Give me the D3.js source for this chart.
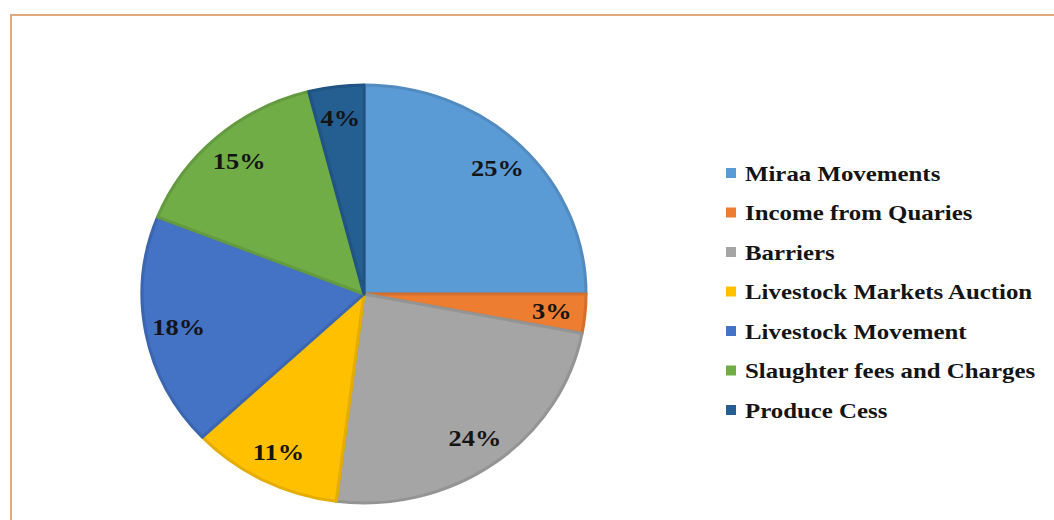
<!DOCTYPE html>
<html>
<head>
<meta charset="utf-8">
<script src="https://cdn.jsdelivr.net/npm/d3@7"></script>
<style>
  html, body { margin: 0; padding: 0; background: #fff; }
  #chart { width: 1054px; height: 520px; }
</style>
</head>
<body>
<div id="chart"></div>
<script>
const categories = ["Miraa Movements", "Income from Quaries", "Barriers", "Livestock Markets Auction",
  "Livestock Movement", "Slaughter fees and Charges", "Produce Cess"];
const shares = [25, 3, 24, 11, 18, 15, 4];
const colors = ["#5B9BD5", "#ED7D31", "#A5A5A5", "#FFC000", "#4472C4", "#70AD47", "#255E91"];

const width = 1054, height = 520;
const cx = 364, cy = 294, r = 209, stretch = 1.062;
const serif = "'Liberation Serif', 'Times New Roman', serif";

const svg = d3.select("#chart").append("svg")
  .attr("width", width).attr("height", height)
  .style("display", "block");

// frame
svg.append("rect")
  .attr("x", 11).attr("y", 15)
  .attr("width", width + 20).attr("height", height + 20)
  .attr("fill", "none")
  .attr("stroke", "#E0AA80")
  .attr("stroke-width", 2);

const pie = d3.pie().sort(null).value(d => d);
const arc = d3.arc().innerRadius(0).outerRadius(r);
const labelArc = d3.arc().innerRadius(r * 0.85).outerRadius(r * 0.85);

const g = svg.append("g")
  .attr("transform", `translate(${cx},${cy}) scale(${stretch},1)`);

const arcs = pie(shares);

g.selectAll("path")
  .data(arcs)
  .join("path")
  .attr("d", arc)
  .attr("fill", (d, i) => colors[i])
  .attr("stroke", (d, i) => d3.color(colors[i]).darker(0.3))
  .attr("stroke-width", 3)
  .attr("stroke-linejoin", "round");

g.selectAll("text")
  .data(arcs)
  .join("text")
  .attr("transform", d => `translate(${labelArc.centroid(d)}) scale(1.08,1)`)
  .attr("text-anchor", "middle")
  .attr("dy", "0.35em")
  .attr("font-family", serif)
  .attr("font-weight", "bold")
  .attr("font-size", 23)
  .attr("fill", "#141414")
  .text(d => d.data + "%");

// legend
const legend = svg.append("g").attr("transform", "translate(726,173)");
const rows = legend.selectAll("g")
  .data(categories)
  .join("g")
  .attr("transform", (d, i) => `translate(0,${i * 39.5})`);

rows.append("rect")
  .attr("x", 0).attr("y", -5)
  .attr("width", 10).attr("height", 10)
  .attr("fill", (d, i) => colors[i]);

rows.append("text")
  .attr("transform", "translate(19,0) scale(1.13,1)")
  .attr("dy", "0.35em")
  .attr("font-family", serif)
  .attr("font-weight", "bold")
  .attr("font-size", 22)
  .attr("fill", "#141414")
  .text(d => d);
</script>
</body>
</html>
